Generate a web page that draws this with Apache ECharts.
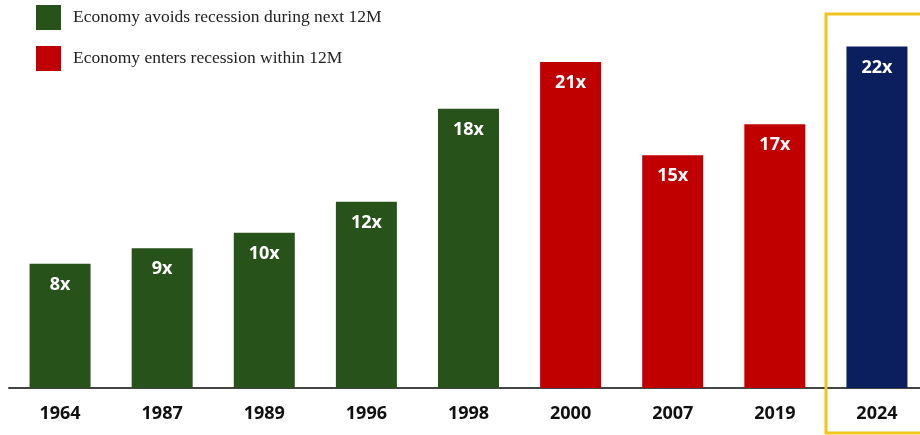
<!DOCTYPE html>
<html><head><meta charset="utf-8">
<script src="https://cdn.jsdelivr.net/npm/echarts@6/dist/echarts.min.js"></script>
<style>html,body{margin:0;padding:0;background:#fff}#c{width:920px;height:435px}</style>
</head><body><div id="c"></div>
<script>
const categories = ['1964','1987','1989','1996','1998','2000','2007','2019','2024'];
const avoidsValues = [8, 9, 10, 12, 18, '-', '-', '-', '-'];
const entersValues = ['-', '-', '-', '-', '-', 21, 15, 17, '-'];
const currentValues = ['-', '-', '-', '-', '-', '-', '-', '-', 22];
const seriesNames = ['Economy avoids recession during next 12M', 'Economy enters recession within 12M', '2024'];

const chart = echarts.init(document.getElementById('c'));
const label = {
  show: true, position: 'insideTop', distance: 12,
  color: '#fff', fontWeight: 'bold', fontSize: 18,
  fontFamily: 'Open Sans, sans-serif',
  formatter: p => p.value + 'x'
};
function mk(name, data, color) {
  return { name, type: 'bar', stack: 's', data, barWidth: 61,
    itemStyle: { color }, label };
}
chart.setOption({
  animation: false,
  backgroundColor: '#fff',
  grid: { left: 9, width: 919, top: 0, bottom: 47, outerBoundsMode: 'none', containLabel: false },
  legend: {
    data: [seriesNames[0], seriesNames[1]],
    orient: 'vertical', left: 31, top: 0,
    itemWidth: 25, itemHeight: 25, itemGap: 16, icon: 'rect',
    textStyle: { fontFamily: 'Liberation Serif, serif', fontSize: 17.5, color: '#222', padding: [0, 0, 0, 7] }
  },
  xAxis: {
    type: 'category', data: categories,
    axisLine: { lineStyle: { color: '#444', width: 2 } },
    axisTick: { show: false },
    axisLabel: { margin: 17, color: '#111', fontWeight: 'bold', fontSize: 18,
      fontFamily: 'Open Sans, sans-serif' }
  },
  yAxis: { type: 'value', min: 0, max: 25, show: false, splitLine: { show: false } },
  series: [
    mk(seriesNames[0], avoidsValues, '#27521a'),
    mk(seriesNames[1], entersValues, '#c00000'),
    mk(seriesNames[2], currentValues, '#0b1f5e')
  ],
  graphic: [{
    type: 'rect', shape: { x: 826, y: 14, width: 110, height: 419 },
    style: { fill: 'none', stroke: '#f2c41e', lineWidth: 3 }, z: 100
  }]
});
</script></body></html>
